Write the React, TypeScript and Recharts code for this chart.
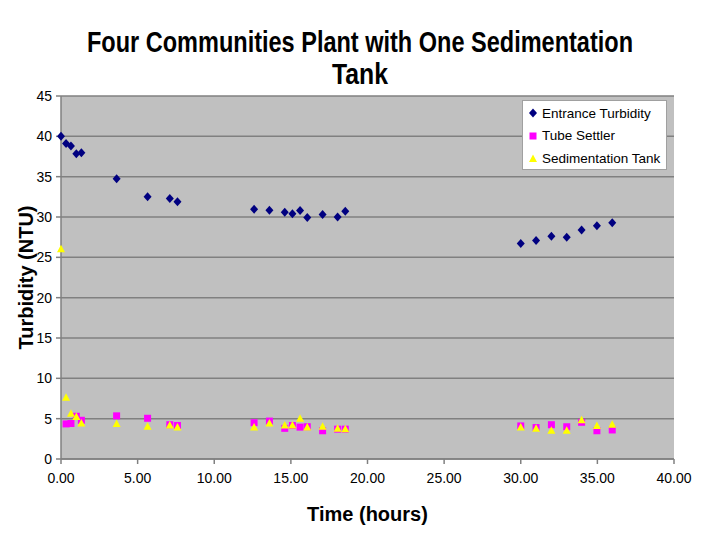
import React from 'react';
import {
  CartesianGrid,
  Scatter,
  ScatterChart,
  XAxis,
  YAxis,
} from 'recharts';

// Sampling times (hours)
const hours = [
  0, 0.33, 0.65, 1.0, 1.33, 3.63, 5.65, 7.1, 7.6,
  12.6, 13.6, 14.6, 15.1, 15.6, 16.07, 17.07, 18.05, 18.55,
  30.0, 31.0, 32.0, 33.0, 33.97, 34.97, 35.97,
];

// Turbidity readings (NTU); null = not measured
const entrance = [
  40.0, 39.1, 38.8, 37.85, 37.95, 34.75, 32.5, 32.3, 31.9,
  30.95, 30.85, 30.6, 30.4, 30.8, 29.95, 30.3, 30.0, 30.7,
  26.7, 27.1, 27.6, 27.5, 28.4, 28.9, 29.3,
];
const tubeSettler = [
  null, 4.35, 4.4, 5.3, 4.8, 5.35, 5.05, 4.25, 4.15,
  4.5, 4.7, 3.8, 4.15, 3.95, 4.0, 3.5, 3.7, 3.7,
  4.1, 3.9, 4.25, 4.0, 4.55, 3.5, 3.6,
];
const sedTank = [
  26.0, 7.6, 5.6, 5.2, 4.4, 4.35, 4.0, 4.15, 3.9,
  3.9, 4.4, 4.15, 4.15, 5.0, 3.9, 4.0, 3.75, 3.7,
  3.9, 3.75, 3.5, 3.5, 4.8, 4.1, 4.25,
];

const xTicks = [0, 5, 10, 15, 20, 25, 30, 35, 40];
const yTicks = [0, 5, 10, 15, 20, 25, 30, 35, 40, 45];

const COLORS = {
  entrance: '#000080',
  tube: '#ff00ff',
  sed: '#ffff00',
  plot: '#c0c0c0',
  grid: '#808080',
};

const FONT = '"Liberation Sans", Arial, sans-serif';

const toPoints = (vals: (number | null)[]) =>
  hours
    .map((h, i) => ({ x: h, y: vals[i] }))
    .filter((p) => p.y != null);

const Diamond = ({ cx, cy, fill }: any) => (
  <polygon points={`${cx},${cy - 4.5} ${cx + 4},${cy} ${cx},${cy + 4.5} ${cx - 4},${cy}`} fill={fill} />
);
const Square = ({ cx, cy, fill }: any) => (
  <rect x={cx - 3.5} y={cy - 3.5} width={7} height={7} fill={fill} />
);
const Triangle = ({ cx, cy, fill }: any) => (
  <polygon points={`${cx},${cy - 4.5} ${cx + 4},${cy + 3} ${cx - 4},${cy + 3}`} fill={fill} />
);

const legendItems = [
  { name: 'Entrance Turbidity', color: COLORS.entrance, mark: 'd' },
  { name: 'Tube Settler', color: COLORS.tube, mark: 's' },
  { name: 'Sedimentation Tank', color: COLORS.sed, mark: 't' },
];

function ChartLegend() {
  return (
    <div
      style={{
        position: 'absolute',
        left: 522,
        top: 100,
        background: '#fff',
        border: '1px solid #a0a0a0',
        width: 145,
        height: 70,
        boxSizing: 'border-box',
        padding: '1px 0 0 5px',
        fontFamily: FONT,
        fontSize: 13.5,
        color: '#000',
      }}
    >
      {legendItems.map((it) => (
        <div key={it.name} style={{ display: 'flex', alignItems: 'center', height: 22.5 }}>
          <svg width={14} height={12}>
            {it.mark === 'd' && <Diamond cx={5} cy={6} fill={it.color} />}
            {it.mark === 's' && <Square cx={5} cy={6} fill={it.color} />}
            {it.mark === 't' && <Triangle cx={5} cy={7} fill={it.color} />}
          </svg>
          <span style={{ whiteSpace: 'nowrap' }}>{it.name}</span>
        </div>
      ))}
    </div>
  );
}

export default function App() {
  return (
    <div style={{ position: 'absolute', left: 0, top: 0, width: 720, height: 540, background: '#fff' }}>
      <svg
        width={720}
        height={100}
        style={{ position: 'absolute', left: 0, top: 0 }}
      >
        <text
          x={360}
          y={52}
          textAnchor="middle"
          fontFamily={FONT}
          fontWeight="bold"
          fontSize={29}
          textLength={546}
          lengthAdjust="spacingAndGlyphs"
        >
          Four Communities Plant with One Sedimentation
        </text>
        <text
          x={360}
          y={84}
          textAnchor="middle"
          fontFamily={FONT}
          fontWeight="bold"
          fontSize={29}
          textLength={56}
          lengthAdjust="spacingAndGlyphs"
        >
          Tank
        </text>
      </svg>
      <ScatterChart
        width={720}
        height={540}
        margin={{ top: 96, right: 46, bottom: 51, left: 0 }}
        style={{ position: 'absolute', left: 0, top: 0, fontFamily: FONT }}
      >
        <CartesianGrid fill={COLORS.plot} stroke={COLORS.grid} vertical={false} strokeWidth={1.5} />
        <XAxis
          type="number"
          dataKey="x"
          domain={[0, 40]}
          ticks={xTicks}
          tickFormatter={(v: number) => v.toFixed(2)}
          tick={{ fill: '#000', fontSize: 14 }}
          stroke={COLORS.grid}
          strokeWidth={1.5}
          tickSize={5}
          tickMargin={9}
          height={30}
          label={{
            value: 'Time (hours)',
            position: 'insideBottom',
            offset: -32,
            style: { fontWeight: 'bold', fontSize: 20, fill: '#000' },
          }}
        />
        <YAxis
          type="number"
          dataKey="y"
          domain={[0, 45]}
          ticks={yTicks}
          tick={{ fill: '#000', fontSize: 14 }}
          stroke={COLORS.grid}
          strokeWidth={1.5}
          tickSize={5}
          tickMargin={4}
          width={61}
          label={{
            value: 'Turbidity (NTU)',
            angle: -90,
            position: 'insideLeft',
            offset: 26,
            style: { fontWeight: 'bold', fontSize: 20, fill: '#000', textAnchor: 'middle' },
          }}
        />
        <Scatter name="Entrance Turbidity" data={toPoints(entrance)} fill={COLORS.entrance} shape={Diamond} isAnimationActive={false} />
        <Scatter name="Tube Settler" data={toPoints(tubeSettler)} fill={COLORS.tube} shape={Square} isAnimationActive={false} />
        <Scatter name="Sedimentation Tank" data={toPoints(sedTank)} fill={COLORS.sed} shape={Triangle} isAnimationActive={false} />
      </ScatterChart>
      <ChartLegend />
    </div>
  );
}
